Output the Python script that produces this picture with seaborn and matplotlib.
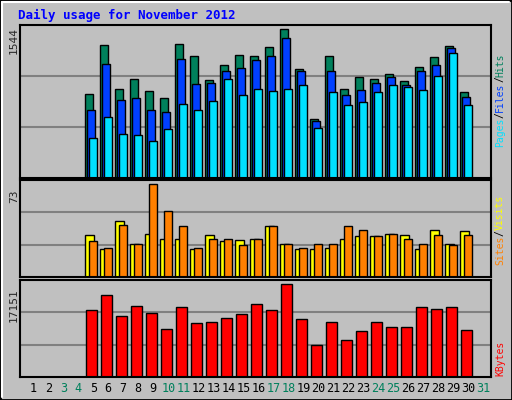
import numpy as np
import pandas as pd
import matplotlib
matplotlib.use("Agg")
import matplotlib.pyplot as plt
import seaborn as sns

days = list(range(5, 31))
hits = [870,1387,923,1028,902,828,1397,1271,1018,1176,1281,1271,1365,1544,1134,618,1271,923,1049,1028,1081,1007,1155,1260,1376,892]
files = [702,1186,807,828,702,691,1239,976,986,1113,1144,1229,1271,1450,1113,597,1113,860,913,986,1049,965,1113,1176,1355,839]
pages = [418,639,460,449,386,512,765,702,797,1028,860,923,902,923,965,523,892,755,786,892,965,944,913,1060,1302,755]
visits = [33,22,44,26,34,30,30,22,33,28,29,30,40,26,22,22,23,30,32,32,34,33,22,37,26,36]
sites = [28,23,41,26,73,52,40,23,30,30,25,30,40,26,23,26,26,40,37,32,34,30,26,33,25,33]
kbytes = [12270,15087,11143,13021,11706,8889,12833,10016,10204,10767,11518,13396,12270,17151,10579,5884,10204,6823,8514,10204,9265,9265,12833,12457,12833,8701]
all_days = list(range(1, 32))
weekend = [3,4,10,11,17,18,24,25,31]

sns.set_style("white")
plt.rcParams['font.family'] = ['DejaVu Sans Mono']

W, H = 512, 400
fig = plt.figure(figsize=(5.12, 4.0), dpi=100)
fig.patch.set_facecolor("#c0c0c0")
fig.add_artist(plt.Rectangle((0, 0), 1, 1, transform=fig.transFigure, fill=False, ec="black", lw=2))
fig.add_artist(plt.Line2D([2/W, 2/W], [3/H, 1-2/H], transform=fig.transFigure, color="white", lw=1.5))
fig.add_artist(plt.Line2D([2/W, 1-3/W], [1-2/H, 1-2/H], transform=fig.transFigure, color="white", lw=1.5))

def axes(top, bottom, left=20, right=491):
    return fig.add_axes([left/W, 1-bottom/H, (right-left)/W, (bottom-top)/H])

xl = ((20-33.3)/15+1, (491-33.3)/15+1)

def bars(ax, offs, vals, w, color):
    df = pd.DataFrame({"x": np.array(days) + offs, "y": vals})
    sns.barplot(data=df, x="x", y="y", native_scale=True, width=w, color=color,
                saturation=1, edgecolor="black", linewidth=1.0, ax=ax)

def style(ax, ymax, ngrid=2):
    ax.set_facecolor("#c0c0c0")
    ax.set_xlim(*xl)
    ax.set_ylim(0, ymax)
    for i in range(1, ngrid+1):
        ax.axhline(ymax*i/3, color="#808080", lw=1.5, zorder=0)
    ax.set_xticks([]); ax.set_yticks([])
    ax.set_xlabel(""); ax.set_ylabel("")
    for s in ax.spines.values():
        s.set_color("black"); s.set_linewidth(1.5)
    ax.set_axisbelow(True)

ax1 = axes(25, 178)
bars(ax1, -0.29, hits, 0.51, "#00805c")
bars(ax1, -0.15, files, 0.51, "#0040ff")
bars(ax1, -0.03, pages, 0.51, "#00e0ff")
style(ax1, 1590)

ax2 = axes(180, 277)
bars(ax2, -0.27, visits, 0.58, "#ffff00")
bars(ax2, -0.03, sites, 0.51, "#ff8000")
style(ax2, 76.4)

ax3 = axes(280, 377)
bars(ax3, -0.13, kbytes, 0.71, "#ff0000")
style(ax3, 17840)

fig.text(18/W, 1-15/H, "Daily usage for November 2012", color="#0000ff",
         fontsize=9, fontweight="bold", va="center", ha="left")

fig.text(14/W, 1-40/H, "1544", rotation=90, fontsize=8, va="center", ha="center")
fig.text(14/W, 1-196/H, "73", rotation=90, fontsize=8, va="center", ha="center")
fig.text(14/W, 1-305/H, "17151", rotation=90, fontsize=8, va="center", ha="center")

FS = 7
CH = FS * 0.602 * 100 / 72

def side(y_center, parts):
    total = sum(len(p) for p, _ in parts)
    y = y_center + total*CH/2
    for p, c in parts:
        fig.text(500/W, 1-(y - len(p)*CH/2)/H, p, rotation=90, color=c, fontsize=FS,
                 va="center", ha="center")
        y -= len(p)*CH

side(100, [("Pages", "#00e0ff"), ("/", "black"), ("Files", "#0040ff"), ("/", "black"), ("Hits", "#00805c")])
side(230, [("Sites", "#ff8000"), ("/", "black"), ("Visits", "#ffff00")])
side(358, [("KBytes", "#ff0000")])

for d in all_days:
    fig.text((33.3+(d-1)*15)/W, 1-389/H, str(d), fontsize=8.5, ha="center", va="center",
             color="#00805c" if d in weekend else "black")

fig.savefig("out.png", dpi=100, facecolor=fig.get_facecolor())
